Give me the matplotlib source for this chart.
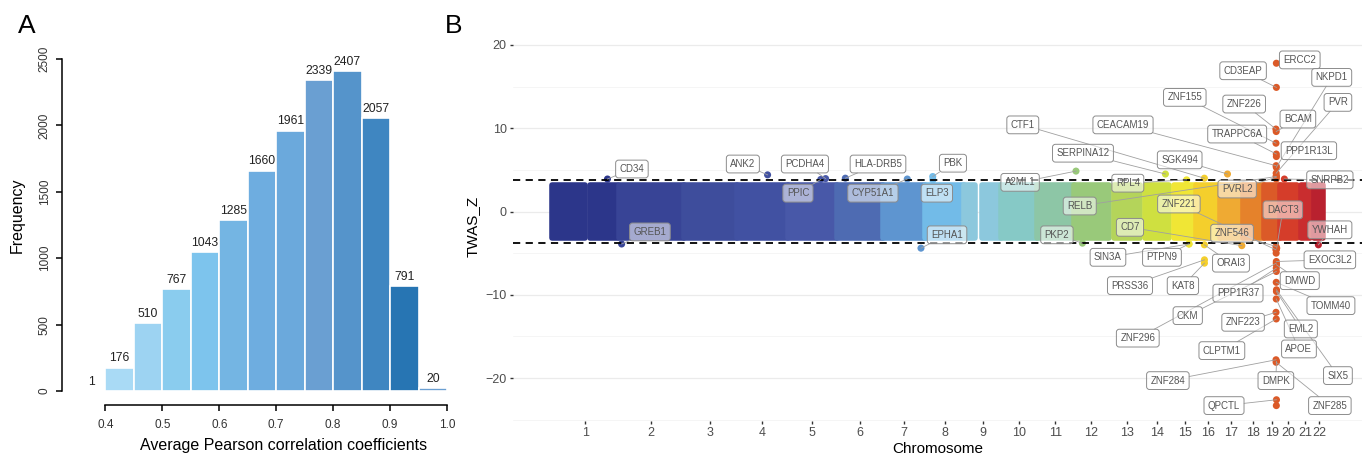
import numpy as np
import matplotlib
matplotlib.use("Agg")
import matplotlib.pyplot as plt

plt.rcParams['font.family'] = ['Liberation Sans', 'DejaVu Sans']

# ---------------- Panel A : histogram data ----------------
bin_left = [0.35, 0.40, 0.45, 0.50, 0.55, 0.60, 0.65, 0.70, 0.75, 0.80, 0.85, 0.90, 0.95]
freq = [1, 176, 510, 767, 1043, 1285, 1660, 1961, 2339, 2407, 2057, 791, 20]
bar_colors = ['#C4E4F7', '#A9DAF5', '#9DD3F2', '#8ACCEE', '#7DC4ED', '#74B5E3', '#6EADE0',
              '#6BA9DC', '#6A9FD2', '#5594CB', '#3F86C1', '#2775B3', '#6A9FD2']

# ---------------- Panel B : TWAS manhattan data ----------------
chroms = list(range(1, 23))
chr_len = [249, 243, 198, 190, 181, 171, 159, 145, 138, 134, 135, 133,
           114, 107, 102, 90, 83, 80, 59, 64, 47, 51]
# span of tested genes on each chromosome (Mb)
band_lo = [0.8, 0.1, 0.2, 0.1, 0.2, 0.3, 0.3, 0.2, 0.2, 0.1, 0.2, 0.2,
           19, 20, 20, 0.1, 0.1, 0.1, 0.3, 0.1, 14, 17]
band_hi = [249, 243, 198, 190, 181, 171, 159, 145, 138, 134, 135, 133,
           115, 107, 102, 90, 81, 78, 59, 63, 48, 51]
gap_chr = [1, 9]
gap_lo = [125, 40]
gap_hi = [143, 68]
band_z = 3.2  # bulk of non-significant genes lies within +/- this
chr_colors = ['#2C368A', '#384496', '#3E4D9C', '#4151A2', '#4858A8', '#4E6BB2',
              '#5E95D0', '#72BBE8', '#8CC8DD', '#86C9C6', '#8DC6A6', '#99C97A',
              '#B4D45A', '#CFE040', '#F0E635', '#F4CF2C', '#EFAA33', '#E5822B',
              '#DB5A28', '#D53D2A', '#C92D2F', '#B9212F']
threshold = 3.77

genes = ['CD34', 'GREB1', 'ANK2', 'PCDHA4', 'PPIC', 'HLA-DRB5', 'CYP51A1', 'PBK', 'ELP3',
         'EPHA1', 'A2ML1', 'PKP2', 'SERPINA12', 'RPL4', 'SIN3A', 'PTPN9', 'CTF1', 'ORAI3',
         'PRSS36', 'KAT8', 'SGK494', 'CD7',
         'ERCC2', 'CD3EAP', 'ZNF226', 'BCAM', 'ZNF155', 'TRAPPC6A', 'PPP1R13L', 'CEACAM19',
         'NKPD1', 'PVR', 'RELB', 'PVRL2', 'DACT3', 'ZNF221', 'ZNF546',
         'EXOC3L2', 'ZNF296', 'DMWD', 'PPP1R37', 'CKM', 'TOMM40', 'SIX5', 'EML2', 'APOE',
         'ZNF223', 'CLPTM1', 'ZNF284', 'DMPK', 'ZNF285', 'QPCTL',
         'SNRPB2', 'YWHAH']
gene_chr = [1, 2, 4, 5, 5, 6, 7, 8, 8, 7, 12, 12, 14, 15, 15, 15, 16, 16, 16, 16, 17, 17,
            19, 19, 19, 19, 19, 19, 19, 19, 19, 19, 19, 19, 19, 19, 19,
            19, 19, 19, 19, 19, 19, 19, 19, 19, 19, 19, 19, 19, 19, 19,
            20, 22]
gene_pos = [208, 11.7, 114, 140, 122, 32.5, 92, 27.7, 28.2, 143, 9, 33, 94.9, 66.8, 75.7,
            75.8, 30.9, 31.0, 31.15, 31.13, 26.9, 80.3,
            45.9, 45.9, 44.2, 45.3, 44.5, 45.7, 45.9, 45.0, 45.7, 45.2, 45.5, 45.4, 47.2,
            44.4, 44.5,
            45.7, 45.6, 46.3, 45.6, 45.8, 45.4, 46.3, 46.1, 45.4, 44.6, 45.5, 44.6, 46.3,
            44.9, 46.2,
            16.7, 32.3]
gene_z = [3.9, -3.9, 4.4, 3.95, 3.85, 4.0, 3.9, 4.2, 3.8, -4.4, 4.85, -3.8, 4.5, 3.8, -3.9,
          -3.9, 4.0, -4.0, -5.8, -6.2, 4.5, -4.1,
          17.8, 14.9, 9.9, 9.6, 8.2, 6.9, 6.6, 5.5, 5.3, 4.6, 4.2, 4.1, -4.4, -4.6, -4.2,
          -6.0, -6.2, -6.4, -6.8, -7.2, -8.5, -9.4, -9.6, -10.5, -12.1, -12.9, -17.8, -18.0,
          -18.1, -22.6,
          3.9, -4.0]
# further significant genes without a label
extra_chr = [19, 19, 19, 19, 19]
extra_pos = [45.4, 45.6, 45.1, 45.8, 46.0]
extra_z = [3.9, 4.3, -5.0, -23.3, -4.5]

# where ggrepel put each label (cumulative Mb, z)
label_xy = {
    'CD34': (299, 5.1), 'GREB1': (366, -2.45), 'ANK2': (712, 5.7), 'PCDHA4': (943, 5.7),
    'PPIC': (917, 2.2), 'HLA-DRB5': (1215, 5.7), 'CYP51A1': (1196, 2.2), 'PBK': (1494, 5.8),
    'ELP3': (1434, 2.2), 'EPHA1': (1472, -2.8), 'A2ML1': (1744, 3.5), 'PKP2': (1881, -2.8),
    'SERPINA12': (1978, 7.0), 'CTF1': (1754, 10.4), 'RELB': (1966, 0.66), 'RPL4': (2145, 3.4),
    'CEACAM19': (2127, 10.4), 'SGK494': (2338, 6.2), 'ZNF155': (2357, 13.7),
    'ZNF221': (2335, 0.9), 'CD7': (2153, -1.9), 'SIN3A': (2071, -5.5), 'PTPN9': (2272, -5.5),
    'PRSS36': (2153, -8.9), 'KAT8': (2350, -8.9), 'ORAI3': (2529, -6.2),
    'ZNF546': (2533, -2.6), 'PVRL2': (2552, 2.7), 'ZNF226': (2578, 12.9),
    'CD3EAP': (2574, 16.9), 'TRAPPC6A': (2552, 9.3), 'PPP1R37': (2555, -9.8),
    'ZNF223': (2574, -13.3), 'CKM': (2368, -12.5), 'ZNF296': (2182, -15.2),
    'CLPTM1': (2495, -16.7), 'ZNF284': (2294, -20.3), 'QPCTL': (2503, -23.3),
    'DMPK': (2696, -20.3), 'ERCC2': (2785, 18.2), 'BCAM': (2778, 11.1), 'DACT3': (2722, 0.2),
    'DMWD': (2785, -8.3), 'EML2': (2789, -14.1), 'APOE': (2782, -16.5), 'NKPD1': (2904, 16.1),
    'PVR': (2927, 13.1), 'PPP1R13L': (2819, 7.3), 'SNRPB2': (2897, 3.8),
    'YWHAH': (2897, -2.2), 'EXOC3L2': (2897, -5.8), 'TOMM40': (2901, -11.3),
    'SIX5': (2927, -19.7), 'ZNF285': (2897, -23.3),
}

W, H = 1364, 457
fig = plt.figure(figsize=(W / 100, H / 100), dpi=100)


def px(x0, y0, x1, y1):
    """axes rect from pixel box (top-left origin)"""
    return [x0 / W, 1 - y1 / H, (x1 - x0) / W, (y1 - y0) / H]


# ================= Panel A =================
axA = fig.add_axes(px(77, 59, 447, 391))
axA.bar(bin_left, freq, width=0.05, align='edge', color=bar_colors,
        edgecolor='white', linewidth=1.2)
for xl, f in zip(bin_left, freq):
    axA.text(xl + 0.025, f + 25, str(f), ha='center', va='bottom', fontsize=8.7,
             color='#222222', clip_on=False)
axA.set_xlim(0.35, 1.0)
axA.set_ylim(0, 2500)
for s in ['top', 'right']:
    axA.spines[s].set_visible(False)
axA.spines['left'].set_position(('outward', 11))
axA.spines['bottom'].set_position(('outward', 10))
axA.spines['left'].set_bounds(0, 2500)
axA.spines['bottom'].set_bounds(0.4, 1.0)
for s in ['left', 'bottom']:
    axA.spines[s].set_linewidth(1.1)
axA.set_yticks([0, 500, 1000, 1500, 2000, 2500])
axA.set_xticks([0.4, 0.5, 0.6, 0.7, 0.8, 0.9, 1.0])
axA.set_xticklabels(['0.4', '0.5', '0.6', '0.7', '0.8', '0.9', '1.0'])
axA.tick_params(axis='y', labelsize=8.5, length=4, width=1.1, rotation=90, pad=4,
                labelcolor='#333333')
for t in axA.get_yticklabels():
    t.set_va('center')
axA.tick_params(axis='x', labelsize=8.5, length=4, width=1.1, pad=6, labelcolor='#333333')
axA.set_ylabel('Frequency', fontsize=11.5)
axA.set_xlabel('Average Pearson correlation coefficients', fontsize=11.5)
axA.xaxis.set_label_coords(0.558, -0.143)
axA.yaxis.set_label_coords(-0.14, 0.53)

fig.text(18 / W, 1 - 33 / H, 'A', fontsize=19)
fig.text(445 / W, 1 - 33 / H, 'B', fontsize=19)

# ================= Panel B =================
axB = fig.add_axes(px(513, 32, 1362, 421))
chr_start = np.concatenate([[0], np.cumsum(chr_len)[:-1]])
total = float(np.sum(chr_len))
start_of = dict(zip(chroms, chr_start))
color_of = dict(zip(chroms, chr_colors))

# background grid
for yv in [-20, -10, 0, 10, 20]:
    axB.axhline(yv, color='#EBEBEB', lw=0.9, zorder=0)
for yv in [-25, -15, -5, 5, 15]:
    axB.axhline(yv, color='#F2F2F2', lw=0.5, zorder=0)

# the dense bulk of genes, one block per chromosome (split at big gaps)
for c, lo, hi, col in zip(chroms, band_lo, band_hi, chr_colors):
    segs = [(lo, hi)]
    for gc, gl, gh in zip(gap_chr, gap_lo, gap_hi):
        if gc == c:
            segs = [(lo, gl), (gh, hi)]
    for a, b in segs:
        axB.bar(start_of[c] + a, 2 * band_z, width=b - a, bottom=-band_z, align='edge',
                color=col, edgecolor=col, linewidth=4, joinstyle='round', zorder=2)

# significant genes
gx = np.array([start_of[c] + p for c, p in zip(gene_chr, gene_pos)])
gz = np.array(gene_z)
ex = np.array([start_of[c] + p for c, p in zip(extra_chr, extra_pos)])
axB.scatter(ex, extra_z, s=26, c=[color_of[c] for c in extra_chr], lw=0, zorder=3)
axB.scatter(gx, gz, s=26, c=[color_of[c] for c in gene_chr], lw=0, zorder=3)

axB.axhline(threshold, color='black', lw=1.3, ls=(0, (4, 3)), zorder=4)
axB.axhline(-threshold, color='black', lw=1.3, ls=(0, (4, 3)), zorder=4)

axB.set_xlim(-0.05 * total, 1.05 * total)
axB.set_ylim(-25.15, 21.55)

texts = []
for g, x, z in zip(genes, gx, gz):
    lx, ly = label_xy[g]
    t = axB.text(lx, ly, g, ha='center', va='center', fontsize=7, color='#555555', zorder=6,
                 bbox=dict(boxstyle='round,pad=0.4,rounding_size=0.3',
                           fc=(1, 1, 1, 0.55), ec='#8C8C8C', lw=0.7))
    texts.append((t, x, z))

centers = [start_of[c] + (lo + hi) / 2 for c, lo, hi in zip(chroms, band_lo, band_hi)]
axB.set_xticks(centers)
axB.set_xticklabels([str(c) for c in chroms])
axB.set_yticks([-20, -10, 0, 10, 20])
axB.set_yticklabels(['\u221220', '\u221210', '0', '10', '20'])
axB.tick_params(labelsize=9, labelcolor='#4D4D4D', length=2.5, width=1, color='#333333',
                pad=2)
for s in axB.spines.values():
    s.set_visible(False)
axB.set_xlabel('Chromosome', fontsize=11, labelpad=2)
axB.set_ylabel('TWAS_Z', fontsize=11, labelpad=4)

# repel segments from label edge to point
fig.canvas.draw()
inv = axB.transData.inverted()
for t, x, z in texts:
    bb = t.get_bbox_patch().get_window_extent()
    cx, cy = (bb.x0 + bb.x1) / 2, (bb.y0 + bb.y1) / 2
    pxp, pyp = axB.transData.transform((x, z))
    dx, dy = pxp - cx, pyp - cy
    hw, hh = bb.width / 2, bb.height / 2
    if abs(dx) <= hw and abs(dy) <= hh:
        continue
    k = min(hw / abs(dx) if dx else np.inf, hh / abs(dy) if dy else np.inf)
    sx, sy = cx + k * dx, cy + k * dy
    if np.hypot(pxp - sx, pyp - sy) < 7:
        continue
    p0 = inv.transform((sx, sy))
    axB.plot([p0[0], x], [p0[1], z], color='#A0A0A0', lw=0.6, zorder=5)

fig.savefig('out.png', dpi=100)
